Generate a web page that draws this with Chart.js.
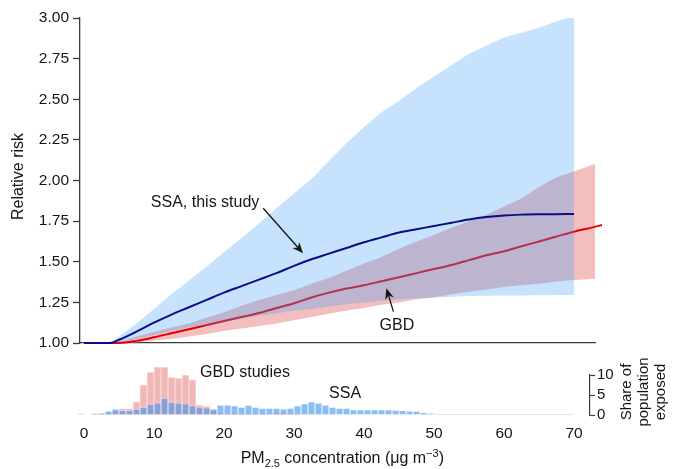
<!DOCTYPE html>
<html>
<head>
<meta charset="utf-8">
<script src="https://cdn.jsdelivr.net/npm/chart.js@4"></script>
<style>
  body { margin: 0; background: #fff; }
  #wrap { position: relative; width: 678px; height: 469px; }
  #wrap canvas { position: absolute; left: 0; top: 0; }
</style>
</head>
<body>
<div id="wrap">
  <canvas id="risk" width="678" height="469"></canvas>
  <canvas id="hist" width="678" height="469"></canvas>
</div>
<script>
// PM2.5 concentration (ug/m3) where the SSA curve and its band were read
const ssaConc = [0, 3.7, 5, 7.5, 10, 12.5, 15, 17.5, 20, 22.5, 25, 27.5, 30, 32.5, 35,
  37.5, 40, 42.5, 45, 47.5, 50, 52.5, 55, 57.5, 60, 62.5, 65, 67.5, 70];
const ssaRR = [1.0, 1.0, 1.02, 1.07, 1.125, 1.175, 1.22, 1.265, 1.31, 1.35, 1.39, 1.43, 1.475, 1.515, 1.55,
  1.585, 1.62, 1.65, 1.68, 1.70, 1.72, 1.74, 1.76, 1.775, 1.785, 1.79, 1.792, 1.793, 1.794];
const ssaHi = [1.0, 1.0, 1.04, 1.12, 1.21, 1.30, 1.385, 1.47, 1.56, 1.645, 1.735, 1.83, 1.92, 2.01, 2.12,
  2.23, 2.33, 2.42, 2.49, 2.57, 2.64, 2.71, 2.78, 2.83, 2.88, 2.91, 2.94, 2.98, 3.01];
const ssaLo = [1.0, 1.0, 1.005, 1.025, 1.05, 1.075, 1.095, 1.112, 1.13, 1.15, 1.168, 1.183, 1.198, 1.21, 1.225,
  1.238, 1.25, 1.26, 1.27, 1.275, 1.28, 1.285, 1.29, 1.291, 1.292, 1.293, 1.294, 1.295, 1.295];

// GBD curve and band
const gbdConc = [0, 4, 5, 7.5, 10, 12.5, 15, 17.5, 20, 22.5, 25, 27.5, 30, 32.5, 35, 37.5, 40,
  42.5, 45, 47.5, 50, 52.5, 55, 57.5, 60, 62.5, 65, 67.5, 70, 72.5, 74];
const gbdRR = [1.0, 1.0, 1.0, 1.013, 1.035, 1.06, 1.085, 1.11, 1.135, 1.16, 1.185, 1.215, 1.245, 1.28, 1.31, 1.335, 1.355,
  1.38, 1.405, 1.43, 1.455, 1.48, 1.51, 1.54, 1.565, 1.595, 1.625, 1.655, 1.685, 1.71, 1.726];
const gbdHi = [1.0, 1.0, 1.01, 1.04, 1.07, 1.095, 1.12, 1.155, 1.19, 1.23, 1.265, 1.295, 1.325, 1.365, 1.40, 1.445, 1.49,
  1.53, 1.58, 1.625, 1.665, 1.71, 1.75, 1.79, 1.84, 1.89, 1.96, 2.02, 2.055, 2.095, 2.116];
const gbdLo = [1.0, 1.0, 1.0, 1.005, 1.015, 1.025, 1.04, 1.055, 1.075, 1.09, 1.105, 1.12, 1.14, 1.16, 1.18, 1.2, 1.215,
  1.235, 1.25, 1.27, 1.28, 1.3, 1.315, 1.33, 1.345, 1.355, 1.365, 1.378, 1.388, 1.394, 1.398];

// histogram bins (lower edge, 1 ug/m3 wide) and share of population exposed (%)
const binStart = [];
for (let b = -1; b < 70; b++) binStart.push(b);
const gbdShare = [0.3, 0, 0.3, 0.3, 0.5, 1.0, 1.6, 1.6, 3.3, 7.5, 10.7, 12, 12, 9.4, 9.2, 10, 8.8, 2.5, 2.2, 1.2,
  0.5, 0.3, 0.3, 0.2, 0.2, 0.3, 0.2, 0.3, 0.5, 0.5, 0.3, 0.2,
  0, 0, 0, 0, 0, 0, 0, 0, 0, 0, 0, 0, 0, 0, 0, 0, 0, 0, 0, 0, 0, 0, 0, 0, 0, 0, 0, 0, 0, 0, 0, 0, 0, 0, 0, 0, 0, 0, 0];
const ssaShare = [0, 0, 0.2, 0.4, 1.0, 1.5, 1.1, 1.1, 1.4, 1.9, 2.7, 3.0, 4.2, 3.2, 3.0, 2.8, 2.3, 1.9, 1.8, 1.5,
  2.5, 2.5, 2.3, 1.9, 2.4, 1.9, 1.7, 1.7, 1.7, 1.5, 1.7, 2.3, 2.8, 3.3, 3.0, 2.5, 1.9, 1.7, 1.7, 1.3,
  1.3, 1.3, 1.3, 1.3, 1.3, 1.2, 1.1, 1.0, 0.9, 0.6, 0.4, 0.2,
  0.1, 0.1, 0.1, 0.1, 0.1, 0.1, 0.1, 0.15, 0.1, 0.15, 0.1, 0.1, 0.1, 0.15, 0.1, 0.1, 0.1, 0.1, 0.1];

const xTicks = [0, 10, 20, 30, 40, 50, 60, 70];
const yTicks = [1.00, 1.25, 1.50, 1.75, 2.00, 2.25, 2.50, 2.75, 3.00];
const shareTicks = [0, 5, 10];

const FONT = '"Liberation Sans", Arial, Helvetica, sans-serif';
const INK = '#151515';
const AXIS = '#3c3c3c';
Chart.defaults.font.family = FONT;
Chart.defaults.color = INK;

function pts(xs, ys) { return xs.map((x, i) => ({ x: x, y: ys[i] })); }

function arrow(ctx, x1, y1, x2, y2) {
  const a = Math.atan2(y2 - y1, x2 - x1), L = 11, W = 4.5;
  const c = Math.cos(a), s = Math.sin(a);
  ctx.beginPath();
  ctx.moveTo(x1, y1);
  ctx.lineTo(x2 - c * L * 0.7, y2 - s * L * 0.7);
  ctx.stroke();
  ctx.beginPath();
  ctx.moveTo(x2, y2);
  ctx.lineTo(x2 - L * c + W * s, y2 - L * s - W * c);
  ctx.lineTo(x2 - L * c * 0.7, y2 - L * s * 0.7);
  ctx.lineTo(x2 - L * c - W * s, y2 - L * s + W * c);
  ctx.closePath();
  ctx.fill();
}

// annotations on the risk panel
const riskNotes = {
  id: 'riskNotes',
  afterDraw(chart) {
    const { ctx, scales: { x, y } } = chart;
    ctx.save();
    ctx.fillStyle = INK;
    ctx.strokeStyle = INK;
    ctx.lineWidth = 1.3;
    ctx.font = '16px ' + FONT;

    ctx.save();
    ctx.translate(19, 176.5);
    ctx.rotate(-Math.PI / 2);
    ctx.textAlign = 'center';
    ctx.textBaseline = 'middle';
    ctx.fillText('Relative risk', 0, 0);
    ctx.restore();

    ctx.textAlign = 'center';
    ctx.textBaseline = 'alphabetic';
    ctx.fillText('SSA, this study', x.getPixelForValue(17.3), y.getPixelForValue(1.839));
    arrow(ctx, x.getPixelForValue(25.6), y.getPixelForValue(1.829), x.getPixelForValue(31.3), y.getPixelForValue(1.552));

    ctx.fillText('GBD', x.getPixelForValue(44.7), y.getPixelForValue(1.08));
    arrow(ctx, x.getPixelForValue(44.2), y.getPixelForValue(1.193), x.getPixelForValue(43.2), y.getPixelForValue(1.337));
    ctx.restore();
  }
};

new Chart(document.getElementById('risk'), {
  type: 'line',
  data: {
    datasets: [
      { data: pts(ssaConc, ssaRR), borderColor: '#0c0c86', borderWidth: 2, pointRadius: 0,
        cubicInterpolationMode: 'monotone', fill: false, order: 0, clip: false },
      { data: pts(ssaConc, ssaHi), borderWidth: 0, borderColor: 'rgba(0,0,0,0)', pointRadius: 0,
        backgroundColor: 'rgba(71,161,245,0.31)', fill: { target: 2 }, order: 1, clip: false },
      { data: pts(ssaConc, ssaLo), borderWidth: 0, borderColor: 'rgba(0,0,0,0)', pointRadius: 0,
        fill: false, order: 1, clip: false },
      { data: pts(gbdConc, gbdRR), borderColor: 'rgb(226,0,0)', borderWidth: 2, pointRadius: 0,
        cubicInterpolationMode: 'monotone', fill: false, order: 2, clip: false },
      { data: pts(gbdConc, gbdHi), borderWidth: 0, borderColor: 'rgba(0,0,0,0)', pointRadius: 0,
        backgroundColor: 'rgb(242,190,190)', fill: { target: 5 }, order: 3, clip: false },
      { data: pts(gbdConc, gbdLo), borderWidth: 0, borderColor: 'rgba(0,0,0,0)', pointRadius: 0,
        fill: false, order: 3, clip: false }
    ]
  },
  options: {
    responsive: false,
    animation: false,
    events: [],
    layout: { padding: { top: 18, right: 83, bottom: 126, left: 0 } },
    plugins: { legend: { display: false }, tooltip: { enabled: false } },
    scales: {
      x: {
        type: 'linear', min: -4 / 7, max: 73,
        ticks: { display: false },
        grid: { display: false, drawTicks: false },
        border: { display: true, color: AXIS, width: 1.3 },
        afterFit: s => { s.height = 0; }
      },
      y: {
        type: 'linear', min: 1, max: 3,
        afterBuildTicks: s => { s.ticks = yTicks.map(v => ({ value: v })); },
        ticks: { font: { size: 15.5 }, padding: 4, autoSkip: false, callback: v => v.toFixed(2) },
        grid: { drawOnChartArea: false, tickLength: 7, color: AXIS, tickWidth: 1.3 },
        border: { display: true, color: AXIS, width: 1.3 },
        afterFit: s => { s.width = 80; }
      }
    }
  },
  plugins: [riskNotes]
});

// labels on the histogram panel
const histNotes = {
  id: 'histNotes',
  afterDraw(chart) {
    const { ctx, scales: { x, y } } = chart;
    ctx.save();
    ctx.fillStyle = INK;
    ctx.textBaseline = 'alphabetic';
    ctx.textAlign = 'center';
    ctx.font = '16px ' + FONT;
    ctx.fillText('GBD studies', x.getPixelForValue(23), y.getPixelForValue(9.6));
    ctx.fillText('SSA', x.getPixelForValue(37.3), y.getPixelForValue(4.2));

    // right-hand axis title, three lines read bottom-up
    ctx.font = '15px ' + FONT;
    ctx.textBaseline = 'middle';
    const lines = ['Share of', 'population', 'exposed'];
    lines.forEach((t, i) => {
      ctx.save();
      ctx.translate(627 + i * 17, 392);
      ctx.rotate(-Math.PI / 2);
      ctx.fillText(t, 0, 0);
      ctx.restore();
    });

    // x title with sub- and superscript
    const parts = [['PM', 16, 0], ['2.5', 11, 4], [' concentration (\u03bcg m', 16, 0], ['\u22123', 11, -6.5], [')', 16, 0]];
    let total = 0;
    parts.forEach(p => { ctx.font = p[1] + 'px ' + FONT; total += ctx.measureText(p[0]).width; });
    let px = x.getPixelForValue(36.9) - total / 2;
    ctx.textAlign = 'left';
    ctx.textBaseline = 'alphabetic';
    parts.forEach(p => {
      ctx.font = p[1] + 'px ' + FONT;
      ctx.fillText(p[0], px, 463 + p[2]);
      px += ctx.measureText(p[0]).width;
    });
    ctx.restore();
  }
};

new Chart(document.getElementById('hist'), {
  type: 'bar',
  data: {
    datasets: [
      { data: pts(binStart.map(b => b + 0.5), ssaShare), backgroundColor: 'rgba(60,145,238,0.59)',
        borderColor: 'rgba(255,255,255,0.35)', borderWidth: 0.8, grouped: false, order: 0,
        barPercentage: 1, categoryPercentage: 1, clip: false },
      { data: pts(binStart.map(b => b + 0.5), gbdShare), backgroundColor: 'rgb(242,184,184)',
        borderColor: 'rgba(255,225,225,0.9)', borderWidth: 0.8, grouped: false, order: 1,
        barPercentage: 1, categoryPercentage: 1, clip: false }
    ]
  },
  options: {
    responsive: false,
    animation: false,
    events: [],
    layout: { padding: { top: 375, right: 0, bottom: 0, left: 80 } },
    plugins: { legend: { display: false }, tooltip: { enabled: false } },
    scales: {
      x: {
        type: 'linear', min: -4 / 7, max: 506 / 7, offset: false,
        afterBuildTicks: s => { s.ticks = xTicks.map(v => ({ value: v })); },
        ticks: { font: { size: 15.5 }, padding: 9, maxRotation: 0, autoSkip: false },
        grid: { display: false, drawTicks: false, offset: false },
        border: { display: false },
        afterFit: s => { s.height = 54; }
      },
      y: {
        type: 'linear', position: 'right', min: 0, max: 10,
        afterBuildTicks: s => { s.ticks = shareTicks.map(v => ({ value: v })); },
        ticks: { font: { size: 15 }, padding: 2, autoSkip: false },
        grid: { drawOnChartArea: false, tickLength: 5, color: AXIS, tickWidth: 1.2 },
        border: { display: true, color: AXIS, width: 1.2 },
        afterFit: s => { s.width = 88; }
      }
    }
  },
  plugins: [histNotes]
});
</script>
</body>
</html>
